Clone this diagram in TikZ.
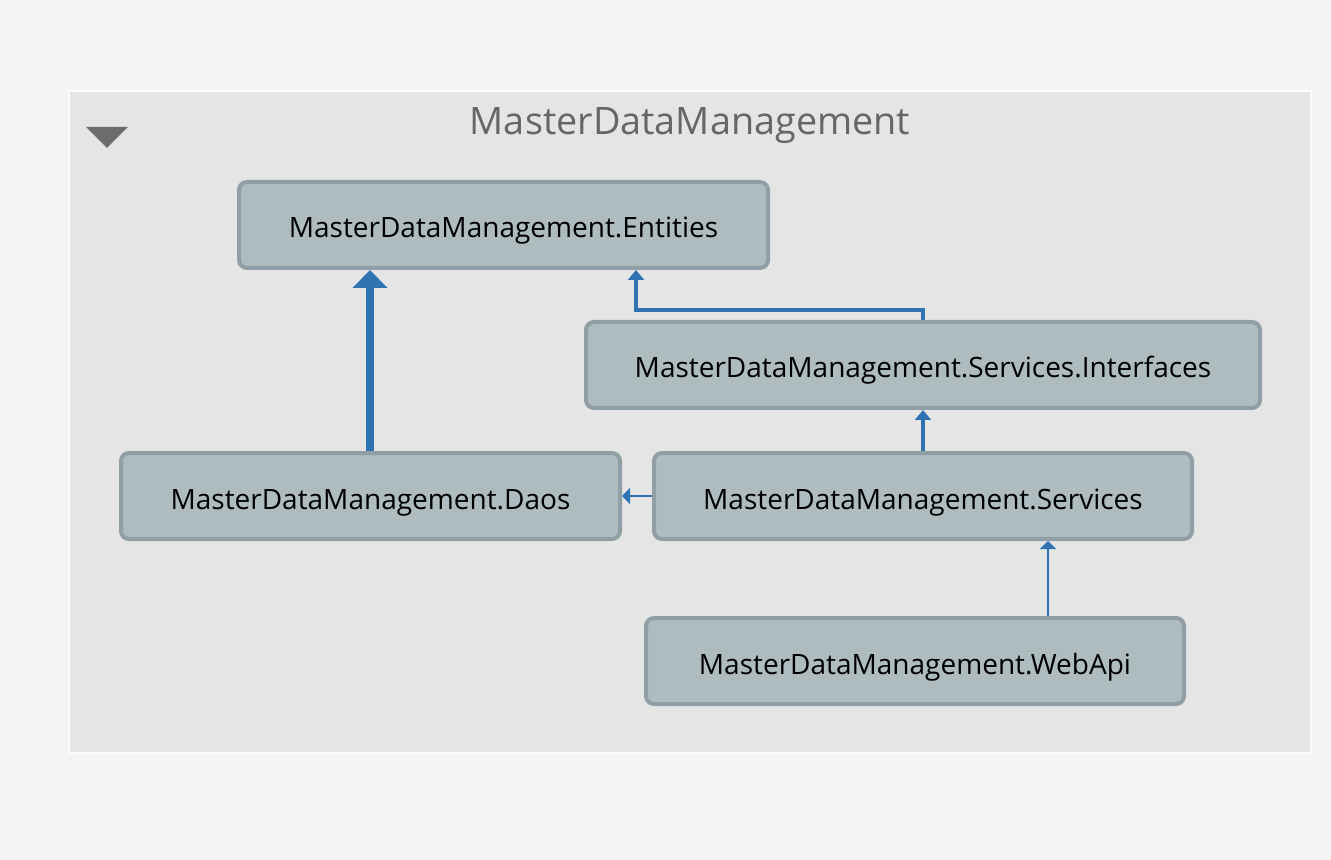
\documentclass[tikz,border=0pt]{standalone}
\usepackage{fontspec}
\setmainfont{Open Sans}
\usetikzlibrary{arrows.meta}
\definecolor{pagebg}{RGB}{244,244,244}
\definecolor{groupbg}{RGB}{229,229,229}
\definecolor{boxfill}{RGB}{174,187,191}
\definecolor{boxline}{RGB}{143,159,165}
\definecolor{deplink}{RGB}{47,115,179}
\definecolor{titlegray}{RGB}{102,102,102}
\definecolor{togglegray}{RGB}{109,109,109}

\begin{document}
\begin{tikzpicture}[
        x=0.5pt, y=-0.5pt,
        proj/.style={
        rectangle, rounded corners=4pt, draw=boxline,
        line width=2pt, fill=boxfill,
        inner sep=0pt, text height=13pt, text depth=0pt,
        font=\fontsize{14}{16}\selectfont},
        heavy/.style={draw=deplink, line width=4pt, -{Triangle[width=17pt,length=9pt]}},
        medium/.style={draw=deplink, line width=2pt, -{Triangle[width=8pt,length=5pt]}},
        light/.style={draw=deplink, line width=1pt, -{Triangle[width=8pt,length=4pt]}},
        ]

        \fill[pagebg] (0,0) rectangle (1331,860);
        \useasboundingbox (0,0) rectangle (1331,860);
        \filldraw[fill=groupbg, draw=white!85!groupbg, line width=1pt] (69,91) rectangle (1311,753);
        \fill[togglegray] (86,127) -- (128,127) -- (107,148) -- cycle;
        \node (title) [text=titlegray, font=\fontsize{18.9}{22}\selectfont] at (690,126){MasterDataManagement};

        \node (ent) [proj, minimum width=264.5pt, minimum height=43pt] at (503.5,225){MasterDataManagement.Entities};
        \node (intf) [proj, minimum width=337pt, minimum height=43pt] at (923,365){MasterDataManagement.Services.Interfaces};
        \node (daos) [proj, minimum width=249.5pt, minimum height=43pt] at (370.5,496){MasterDataManagement.Daos};
        \node (svc) [proj, minimum width=269pt, minimum height=43pt] at (923,496){MasterDataManagement.Services};
        \node (web) [proj, minimum width=269pt, minimum height=43pt] at (915,661){MasterDataManagement.WebApi};

        \coordinate (bendR) at (923,310);
        \coordinate (bendL) at (636,310);

        \draw[heavy] (daos.north -| 370,0) -- (ent.south -| 370,0);
        \draw[medium] (intf.north -| bendR) -- (bendR) -- (bendL) -- (ent.south -| bendL);
        \draw[medium] (svc.north) -- (intf.south);
        \draw[light] (svc.west) -- (daos.east);
        \draw[light] (web.north -| 1048,0) -- (svc.south -| 1048,0);
    \end{tikzpicture}
\end{document}
